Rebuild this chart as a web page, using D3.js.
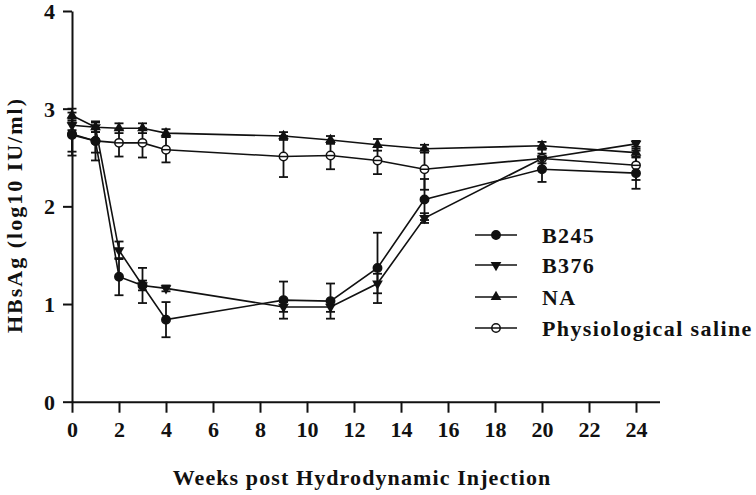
<!DOCTYPE html>
<html>
<head>
<meta charset="UTF-8">
<title>HBsAg</title>
<script src="https://d3js.org/d3.v7.min.js"></script>
<style>
  body { margin: 0; background: #fff; }
  text { font-family: "Liberation Serif", "Times New Roman", serif; font-weight: bold; fill: #111; }
</style>
</head>
<body>
<svg width="756" height="495"></svg>
<script>
// data
var weeks = [0, 1, 2, 3, 4, 9, 11, 13, 15, 20, 24];
var seriesNames = ["B245", "B376", "NA", "Physiological saline"];
var b245 = [2.73, 2.67, 1.28, 1.19, 0.84, 1.04, 1.03, 1.37, 2.07, 2.38, 2.34];
var b245Err = [0.17, 0.20, 0.19, 0.18, 0.18, 0.19, 0.18, 0.36, 0.21, 0.13, 0.16];
var b376 = [2.83, 2.81, 1.55, 1.19, 1.16, 0.97, 0.97, 1.21, 1.88, 2.49, 2.64];
var b376Err = [0.05, 0.05, 0.09, 0.05, 0.03, 0.05, 0.05, 0.10, 0.05, 0.05, 0.03];
var na = [2.93, 2.81, 2.80, 2.80, 2.75, 2.72, 2.68, 2.63, 2.59, 2.62, 2.55];
var naErr = [0.07, 0.05, 0.05, 0.05, 0.04, 0.04, 0.04, 0.06, 0.04, 0.04, 0.04];
var saline = [2.74, 2.67, 2.65, 2.65, 2.58, 2.51, 2.52, 2.47, 2.38, 2.49, 2.42];
var salineErr = [0.22, 0.12, 0.14, 0.15, 0.13, 0.21, 0.14, 0.14, 0.21, 0.10, 0.15];
var xTicks = [0, 2, 4, 6, 8, 10, 12, 14, 16, 18, 20, 22, 24];
var yTicks = [0, 1, 2, 3, 4];

var svg = d3.select("svg");
var x = d3.scaleLinear().domain([0, 25]).range([72, 659.5]);
var y = d3.scaleLinear().domain([0, 4]).range([401.7, 11]);

var series = [
  {name: seriesNames[0], vals: b245, err: b245Err, type: "circle"},
  {name: seriesNames[1], vals: b376, err: b376Err, type: "down"},
  {name: seriesNames[2], vals: na, err: naErr, type: "up"},
  {name: seriesNames[3], vals: saline, err: salineErr, type: "open"}
];
// open circles go under the filled markers
var drawOrder = [series[3], series[2], series[1], series[0]];

// axes
var yAxis = svg.append("g")
  .attr("transform", "translate(" + x(0) + ",0)")
  .call(d3.axisLeft(y).tickValues(yTicks).tickSize(9).tickSizeOuter(0).tickPadding(8).tickFormat(d3.format("d")));
var xAxis = svg.append("g")
  .attr("transform", "translate(0," + y(0) + ")")
  .call(d3.axisBottom(x).tickValues(xTicks).tickSize(11).tickSizeOuter(0).tickPadding(9).tickFormat(d3.format("d")));
[xAxis, yAxis].forEach(function(g) {
  g.selectAll("path, line").attr("stroke", "#111").attr("stroke-width", 2);
  g.selectAll("text").attr("font-size", 22).style("font-family", "Liberation Serif").style("font-weight", "bold").attr("fill", "#111");
});
yAxis.selectAll("text").attr("dy", "0.34em");

// marker helper
function marker(g, type) {
  if (type == "circle" || type == "open") {
    g.append("circle").attr("r", 4.2)
      .attr("fill", type == "circle" ? "#111" : "#fff")
      .attr("stroke", "#111").attr("stroke-width", 1.5);
    if (type == "open") g.append("line").attr("x1", -4.2).attr("x2", 4.2).attr("stroke", "#111").attr("stroke-width", 1.5);
  } else {
    g.append("path").attr("d", d3.symbol().type(d3.symbolTriangle).size(50)())
      .attr("transform", type == "down" ? "rotate(180)" : null)
      .attr("fill", "#111");
  }
}

var line = d3.line().x(function(d) { return x(d[0]); }).y(function(d) { return y(d[1]); });

drawOrder.forEach(function(s) {
  var pts = weeks.map(function(w, i) { return [w, s.vals[i], s.err[i]]; });
  svg.append("path").datum(pts).attr("d", line)
    .attr("fill", "none").attr("stroke", "#111").attr("stroke-width", 1.6);
});

drawOrder.forEach(function(s) {
  var pts = weeks.map(function(w, i) { return [w, s.vals[i], s.err[i]]; });
  var eb = svg.append("g").selectAll("g").data(pts).enter().append("g");
  eb.append("line")
    .attr("x1", function(d) { return x(d[0]); }).attr("x2", function(d) { return x(d[0]); })
    .attr("y1", function(d) { return y(d[1] - d[2]); }).attr("y2", function(d) { return y(d[1] + d[2]); })
    .attr("stroke", "#111").attr("stroke-width", 1.8);
  [-1, 1].forEach(function(sg) {
    eb.append("line")
      .attr("x1", function(d) { return x(d[0]) - 4.5; }).attr("x2", function(d) { return x(d[0]) + 4.5; })
      .attr("y1", function(d) { return y(d[1] + sg * d[2]); }).attr("y2", function(d) { return y(d[1] + sg * d[2]); })
      .attr("stroke", "#111").attr("stroke-width", 1.8);
  });
});

drawOrder.forEach(function(s) {
  weeks.forEach(function(w, i) {
    var g = svg.append("g").attr("transform", "translate(" + x(w) + "," + y(s.vals[i]) + ")");
    marker(g, s.type);
  });
});

// legend
var leg = svg.append("g").selectAll("g").data(series).enter().append("g")
  .attr("transform", function(d, i) { return "translate(475," + [235, 265, 297, 328][i] + ")"; });
leg.append("line").attr("x1", 0).attr("x2", 42).attr("stroke", "#111").attr("stroke-width", 1.6);
leg.each(function(d) {
  var g = d3.select(this).append("g").attr("transform", "translate(21,0)");
  marker(g, d.type);
});
leg.append("text").attr("x", 67).attr("y", 8).attr("font-size", 22)
  .style("letter-spacing", "1.4px")
  .text(function(d) { return d.name; });

// axis titles
svg.append("text").attr("x", 362).attr("y", 485).attr("text-anchor", "middle")
  .attr("font-size", 22).style("letter-spacing", "1.1px")
  .text("Weeks post Hydrodynamic Injection");
svg.append("text").attr("transform", "translate(22,215) rotate(-90)").attr("text-anchor", "middle")
  .attr("font-size", 22).style("letter-spacing", "2px")
  .text("HBsAg (log10 IU/ml)");
</script>
</body>
</html>
